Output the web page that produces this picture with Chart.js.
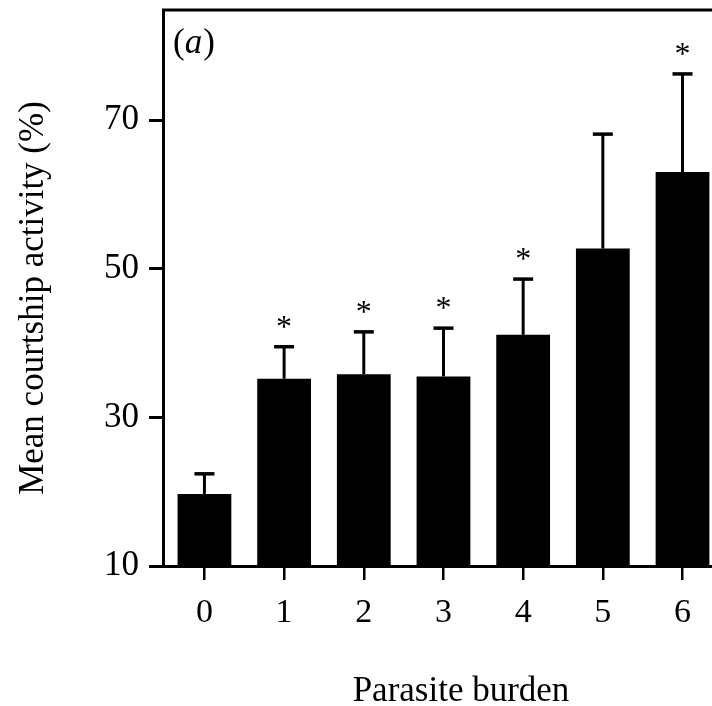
<!DOCTYPE html>
<html>
<head>
<meta charset="utf-8">
<script src="https://cdn.jsdelivr.net/npm/chart.js@4.4.1/dist/chart.umd.min.js"></script>
<style>
  html, body { margin: 0; padding: 0; background: #fff; }
  #wrap { width: 712px; height: 706px; }
</style>
</head>
<body>
<div id="wrap"><canvas id="chart" width="712" height="706"></canvas></div>
<script>
// values
const burdens = [0, 1, 2, 3, 4, 5, 6];
const meanActivity = [19.7, 35.2, 35.8, 35.5, 41.1, 52.7, 63.0];
const errorTop = [22.4, 39.5, 41.5, 42.0, 48.6, 68.1, 76.2];
const significant = [false, true, true, true, true, false, true];
const yTickValues = [10, 30, 50, 70];

const SERIF = '"Liberation Serif", "Times New Roman", serif';

// error bars, asterisks, frame line, panel label and axis titles
const figureExtras = {
    id: 'figureExtras',
    afterDatasetsDraw(chart) {
        const { ctx, chartArea, scales: { x, y } } = chart;
        ctx.save();
        ctx.strokeStyle = '#000';
        ctx.fillStyle = '#000';

        burdens.forEach((b, i) => {
            const px = x.getPixelForValue(b);
            const yBar = y.getPixelForValue(meanActivity[i]);
            const yErr = y.getPixelForValue(errorTop[i]);

            ctx.lineWidth = 3;
            ctx.beginPath();
            ctx.moveTo(px, yBar);
            ctx.lineTo(px, yErr);
            ctx.stroke();

            ctx.lineWidth = 3.5;
            ctx.beginPath();
            ctx.moveTo(px - 10, yErr);
            ctx.lineTo(px + 10, yErr);
            ctx.stroke();

            if (significant[i]) {
                ctx.font = '32px ' + SERIF;
                ctx.textAlign = 'center';
                ctx.textBaseline = 'alphabetic';
                ctx.fillText('*', px, yErr - 10);
            }
        });

        // top frame line
        ctx.lineWidth = 3;
        ctx.beginPath();
        ctx.moveTo(chartArea.left - 1, chartArea.top);
        ctx.lineTo(chartArea.right, chartArea.top);
        ctx.stroke();

        // panel label (a)
        ctx.textAlign = 'left';
        ctx.textBaseline = 'alphabetic';
        let lx = 173;
        ctx.font = '35px ' + SERIF;
        ctx.fillText('(', lx, 53);
        lx += ctx.measureText('(').width;
        ctx.font = 'italic 35px ' + SERIF;
        ctx.fillText('a', lx, 53);
        lx += ctx.measureText('a').width + 1;
        ctx.font = '35px ' + SERIF;
        ctx.fillText(')', lx, 53);

        // axis titles
        ctx.font = '35px ' + SERIF;
        ctx.textAlign = 'center';
        ctx.fillText('Parasite burden', 461, 701);

        ctx.translate(43, 298);
        ctx.rotate(-Math.PI / 2);
        ctx.fillText('Mean courtship activity (%)', 0, 0);

        ctx.restore();
    }
};

new Chart(document.getElementById('chart'), {
    type: 'bar',
    data: {
        datasets: [{
            data: burdens.map((b, i) => ({ x: b, y: meanActivity[i] })),
            backgroundColor: '#000',
            borderWidth: 0,
            barPercentage: 1,
            categoryPercentage: 0.675
        }]
    },
    options: {
        responsive: false,
        animation: false,
        layout: { padding: { top: 10, right: 0, left: 0, bottom: 0 } },
        plugins: {
            legend: { display: false },
            tooltip: { enabled: false }
        },
        scales: {
            x: {
                type: 'linear',
                offset: false,
                min: -0.52,
                max: 6.37,
                afterBuildTicks: s => { s.ticks = burdens.map(v => ({ value: v })); },
                afterFit: s => {
                    s.height = 140;
                    s.paddingLeft = 0;
                    s.paddingRight = 0;
                },
                border: { color: '#000', width: 3 },
                grid: { offset: false, drawOnChartArea: false, color: '#000', lineWidth: 2.5, tickLength: 14 },
                ticks: {
                    color: '#000',
                    font: { family: SERIF, size: 34 },
                    padding: 13,
                    maxRotation: 0,
                    autoSkip: false,
                    callback: v => String(v)
                }
            },
            y: {
                min: 10,
                max: 84.8,
                afterBuildTicks: s => { s.ticks = yTickValues.map(v => ({ value: v })); },
                afterFit: s => {
                    s.width = 163;
                    s.paddingTop = 0;
                    s.paddingBottom = 0;
                },
                border: { color: '#000', width: 3 },
                grid: { drawOnChartArea: false, color: '#000', lineWidth: 3, tickLength: 14 },
                ticks: {
                    color: '#000',
                    font: { family: SERIF, size: 35 },
                    padding: 10
                }
            }
        }
    },
    plugins: [figureExtras]
});
</script>
</body>
</html>
